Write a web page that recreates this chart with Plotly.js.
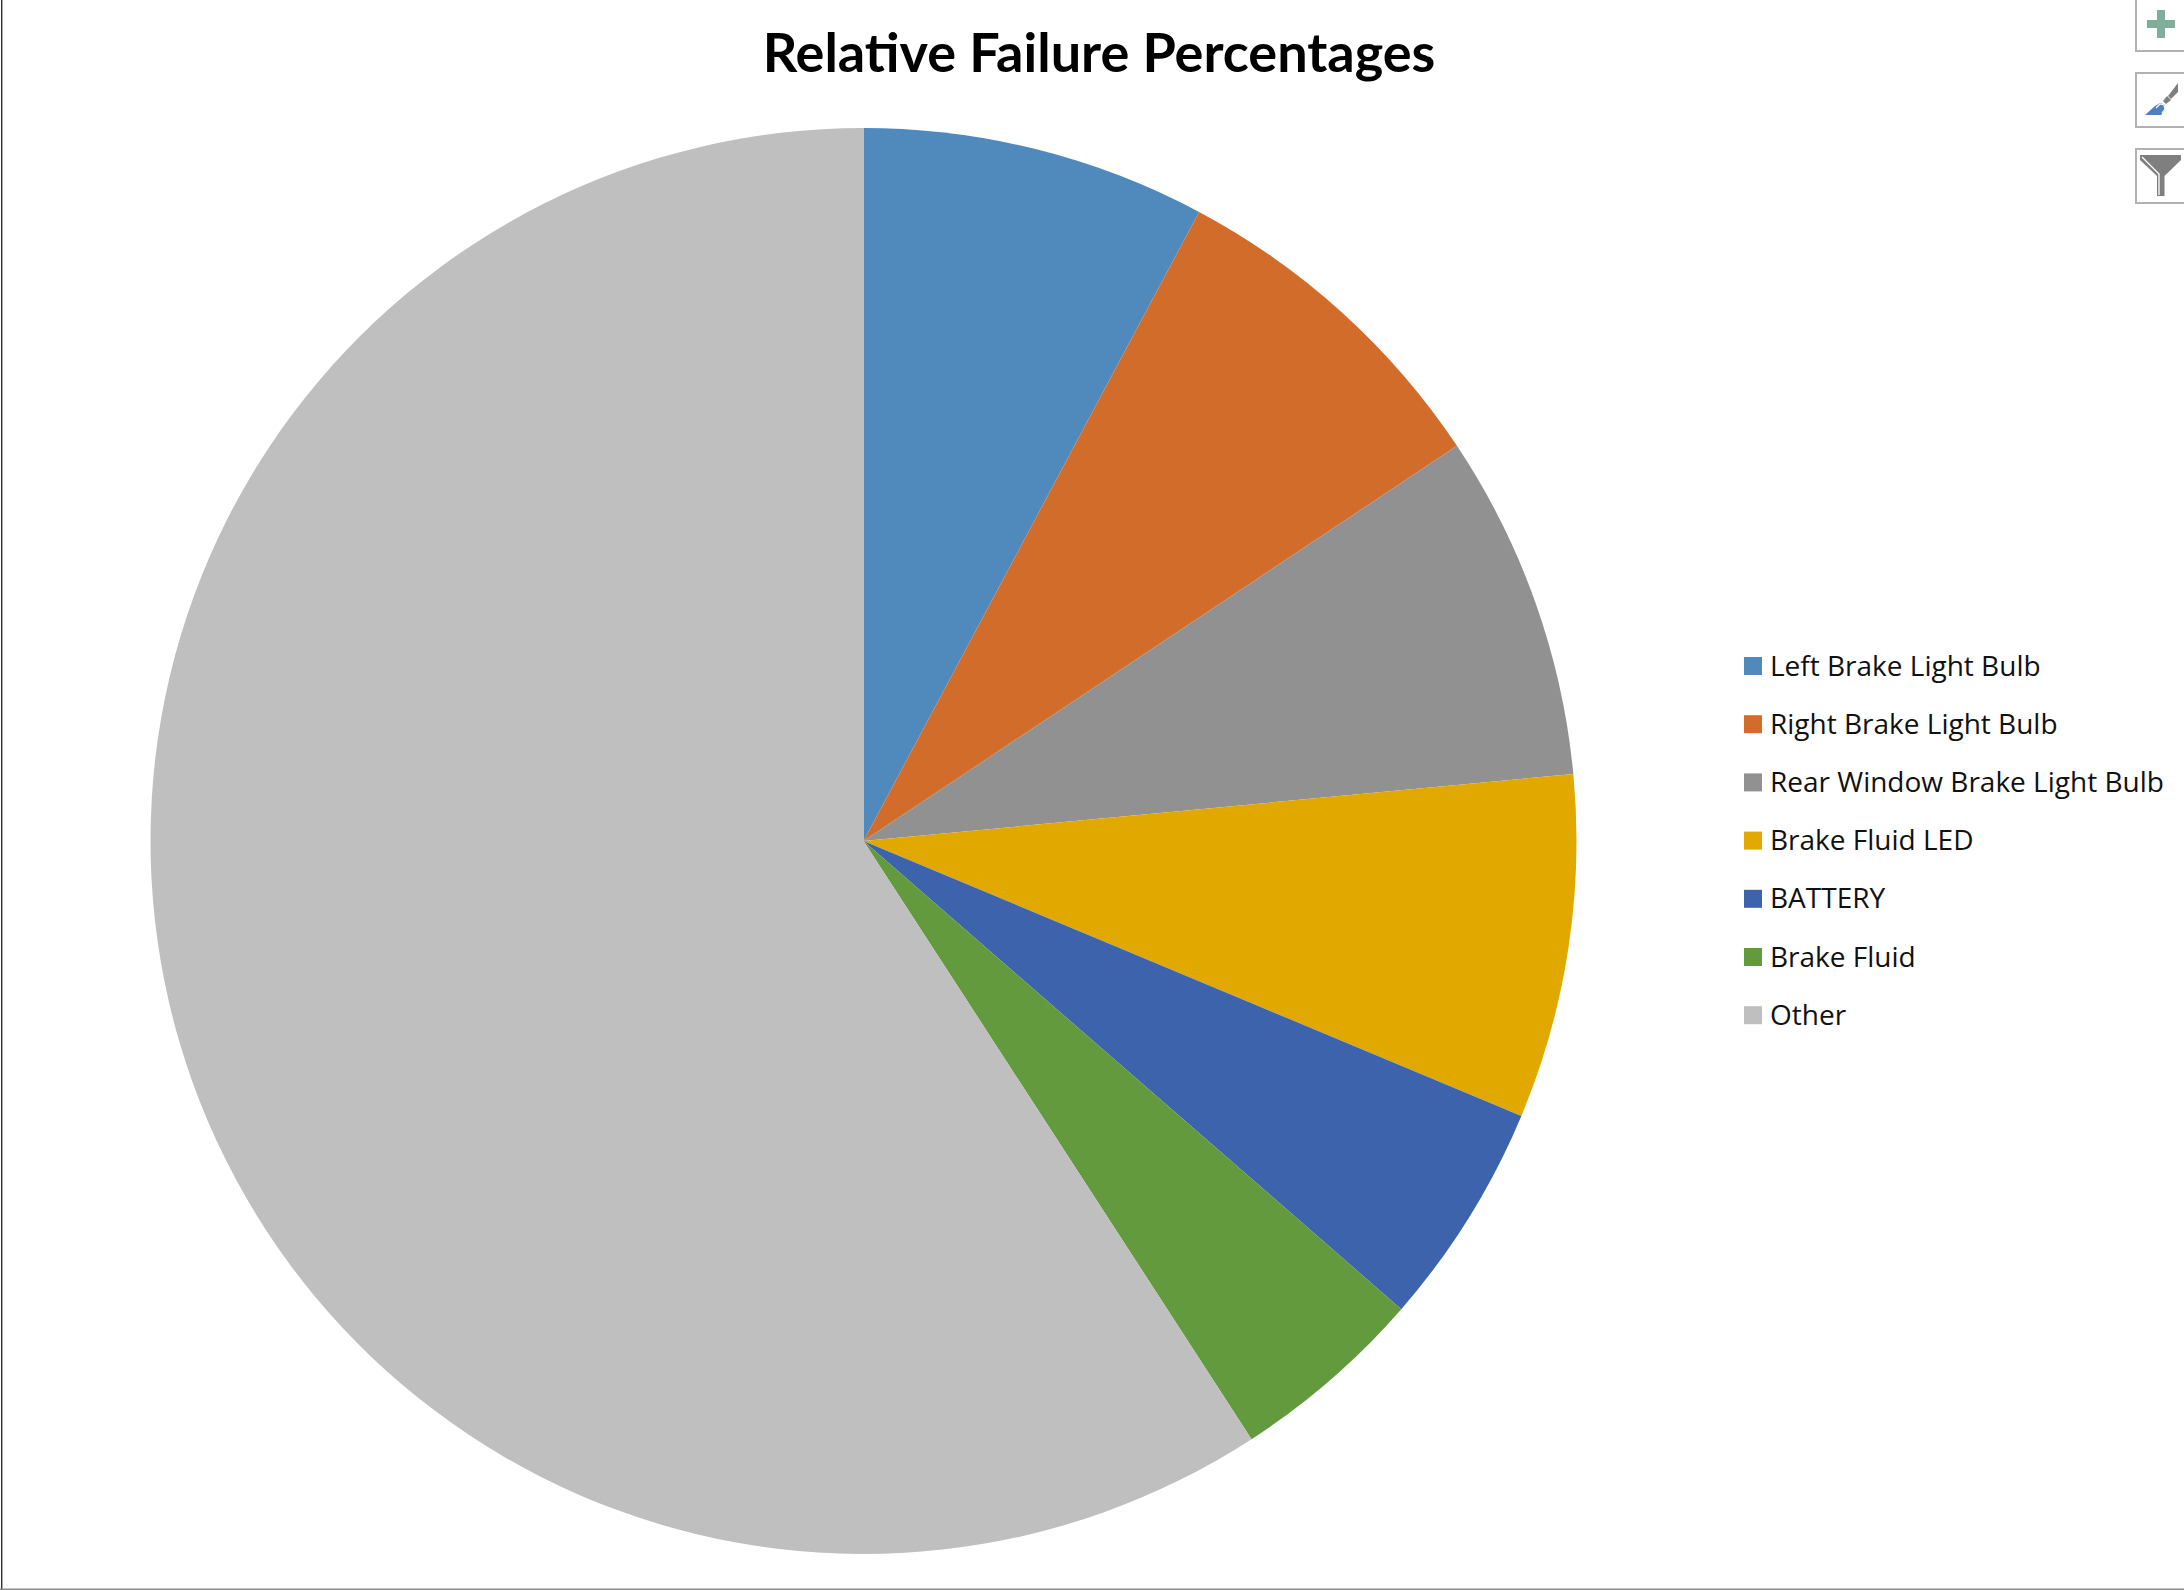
<!DOCTYPE html>
<html>
<head>
<meta charset="utf-8">
<script src="https://cdn.plot.ly/plotly-3.0.1.min.js"></script>
<style>html,body{margin:0;padding:0;background:#fff;overflow:hidden}#chart{width:2184px;height:1590px}</style>
</head>
<body>
<div id="chart"></div>
<script>
const categories = ["Left Brake Light Bulb","Right Brake Light Bulb","Rear Window Brake Light Bulb","Brake Fluid LED","BATTERY","Brake Fluid","Other"];
const percentages = [7.8,7.85,7.85,7.8,5.1,4.44,59.16];
const sliceColors = ["#5089bc","#d26c2a","#919191","#e1a900","#3c63ac","#639a3e","#bfbfbf"];
const chartTitle = "Relative Failure Percentages";

const W = 2184, H = 1590;
const px = x => x / W, py = y => 1 - y / H;
const cx = 863.5, cy = 841, r = 713;

const rect = (x0,y0,x1,y1,opt) => Object.assign({type:"rect",xref:"paper",yref:"paper",
  x0:px(x0),x1:px(x1),y0:py(y0),y1:py(y1),layer:"above"},opt);
const pathOf = (pts,close) => "M"+pts.map(p=>px(p[0])+","+py(p[1])).join("L")+(close?"Z":"");
const poly = (pts,fill) => ({type:"path",xref:"paper",yref:"paper",layer:"above",
  path:pathOf(pts,true),fillcolor:fill,line:{width:0}});
const stroke = (pts,color,width) => ({type:"path",xref:"paper",yref:"paper",layer:"above",
  path:pathOf(pts,false),line:{color:color,width:width}});

const shapes = [], annotations = [];
categories.forEach((c,i)=>{
  const y = 666 + i*58.2;
  shapes.push(rect(1744,y-9,1762,y+9,{fillcolor:sliceColors[i],line:{width:0}}));
  annotations.push({text:c,xref:"paper",yref:"paper",x:px(1767.5),y:py(y-1.5),xanchor:"left",yanchor:"middle",
    showarrow:false,align:"left",font:{family:"Open Sans, sans-serif",size:28,color:"#111111"}});
});
// window edges
shapes.push(rect(1,0,2.4,H,{fillcolor:"#2b3138",line:{width:0}}));
shapes.push(rect(0,1588.5,W,H,{fillcolor:"#8a8a8a",line:{width:0}}));
// chart tool buttons
const boxLine = {color:"#b2b2b2",width:2};
shapes.push(rect(2136,-4,2190,51,{fillcolor:"#ffffff",line:boxLine}));
shapes.push(rect(2136,73,2190,127,{fillcolor:"#ffffff",line:boxLine}));
shapes.push(rect(2136,149,2190,203,{fillcolor:"#ffffff",line:boxLine}));
// plus
shapes.push(rect(2157,10,2165,38,{fillcolor:"#7fae9a",line:{width:0}}));
shapes.push(rect(2147,20,2175,28,{fillcolor:"#7fae9a",line:{width:0}}));
// brush
shapes.push(poly([[2178,83],[2178,92],[2171,99],[2168,96]],"#7f7f7f"));
shapes.push(poly([[2167,96],[2171,100],[2166,104],[2163,101]],"#7f7f7f"));
shapes.push(poly([[2145,115],[2155,106],[2160,103],[2165,105],[2165,110],[2161,115]],"#4f81bd"));
shapes.push(stroke([[2156,108],[2160,104],[2164,105],[2165,109],[2162,113]],"#ffffff",1.2));
// funnel
shapes.push(poly([[2140,155],[2181,155],[2181,160],[2164.5,176],[2164.5,196],[2157,196],[2157,176],[2140,160]],"#7f7f7f"));
shapes.push(stroke([[2142,157],[2159,174],[2159,195]],"#ffffff",1.3));

Plotly.newPlot("chart",[{
  type:"pie",
  labels:categories,
  values:percentages,
  sort:false,
  direction:"clockwise",
  rotation:0,
  textinfo:"none",
  showlegend:false,
  hoverinfo:"label+percent",
  automargin:false,
  marker:{colors:sliceColors,line:{width:0}},
  domain:{x:[px(cx-r),px(cx+r)],y:[py(cy+r),py(cy-r)]}
}],{
  width:W,height:H,
  margin:{l:0,r:0,t:0,b:0},
  paper_bgcolor:"#ffffff",
  showlegend:false,
  title:{text:"<b>"+chartTitle+"</b>",x:px(1099),xref:"paper",xanchor:"center",y:py(53),yref:"paper",yanchor:"middle",
    font:{family:"Lato, sans-serif",size:54,color:"#000000"}},
  shapes:shapes,
  annotations:annotations
},{displayModeBar:false,responsive:false});
</script>
</body>
</html>
